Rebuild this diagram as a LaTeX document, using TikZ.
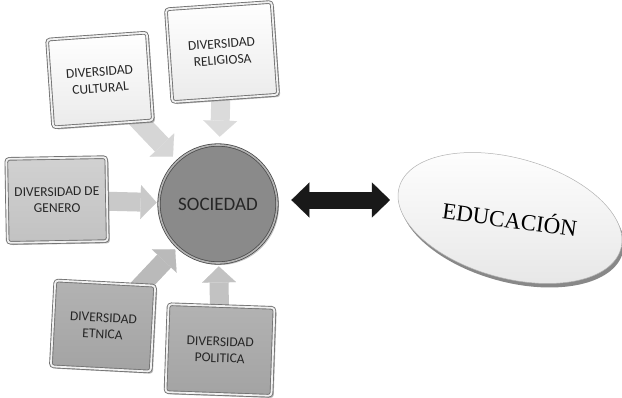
\documentclass[tikz,border=0pt]{standalone}
\usepackage{fontspec}
\setmainfont{Carlito}
\newfontfamily\edufont{Liberation Serif}
\usetikzlibrary{shapes.geometric,shadows,arrows.meta,backgrounds}
\begin{document}
\begin{tikzpicture}[x=1pt,y=-1pt,
  dbox/.style={rectangle, rounded corners=3pt, draw=black!55, line width=0.9pt,
    double=black!6, double distance=1.8pt, align=center, inner sep=2pt,
    font=\fontsize{13.5}{16.5}\selectfont, text=black!85,
    drop shadow={shadow xshift=2.2pt,shadow yshift=-2.2pt,opacity=0.55}},
  lightfill/.style={top color=white, bottom color=black!8},
  genfill/.style={top color=black!18, bottom color=black!24},
  darkfill/.style={top color=black!30, bottom color=black!36},
  socnode/.style={circle, minimum size=118pt, inner sep=0pt, fill=black!46,
    draw=black!70, line width=0.8pt, double=black!30, double distance=1.6pt,
    font=\fontsize{19}{19}\selectfont, text=black!85,
    drop shadow={shadow xshift=2pt,shadow yshift=-2pt,opacity=0.45}},
  edunode/.style={ellipse, minimum width=230pt, minimum height=120pt, inner sep=0pt,
    top color=white, bottom color=black!9, draw=black!30, line width=0.5pt,
    drop shadow={shadow xshift=2pt,shadow yshift=-4pt,fill=black!55,opacity=0.85}},
  blk/.style={line width=19pt, draw=#1, -{Triangle[width=34pt,length=16pt,line width=0.1pt,fill=#1]}},
  dblarrow/.style={line width=17pt, draw=black!90,
    {Triangle[width=35pt,length=18pt,line width=0.1pt]}-{Triangle[width=35pt,length=18pt,line width=0.1pt]}}
]
\useasboundingbox (0,0) rectangle (622,397);

\node[socnode] (soc) at (218,204) {SOCIEDAD};
\node[dbox, lightfill, minimum width=100pt, minimum height=88pt, rotate=4] (cul) at (100,80) {DIVERSIDAD\\CULTURAL};
\node[dbox, lightfill, minimum width=106pt, minimum height=93pt, rotate=4] (rel) at (222,52) {DIVERSIDAD\\RELIGIOSA};
\node[dbox, genfill, minimum width=100pt, minimum height=84pt, rotate=1] (gen) at (57,200) {DIVERSIDAD DE\\GENERO};
\node[dbox, darkfill, minimum width=100pt, minimum height=86pt, rotate=-3] (etn) at (103,326) {DIVERSIDAD\\ETNICA};
\node[dbox, darkfill, minimum width=106pt, minimum height=88pt, rotate=-2] (pol) at (220,350) {DIVERSIDAD\\POLITICA};

\node[edunode, rotate=-15.5] (edu) at (510,218) {\rotatebox{8}{\edufont\fontsize{23}{23}\selectfont EDUCACIÓN}};

\begin{scope}[on background layer]
  \draw[blk=black!16, shorten <=-6pt, shorten >=6pt] (cul) -- (soc);
  \draw[blk=black!14, shorten <=-4pt, shorten >=8pt] (rel) -- (soc);
  \draw[blk=black!21, shorten <=-4pt, shorten >=2pt] (gen) -- (soc);
  \draw[blk=black!27, shorten <=-6pt, shorten >=3pt] (etn) -- (soc);
  \draw[blk=black!24, shorten <=-4pt, shorten >=3pt] (pol) -- (soc);
\end{scope}

\draw[dblarrow, shorten <=14pt, shorten >=9pt] ([yshift=4pt]soc.east) -- ([yshift=4pt]soc.east -| edu.west);
\end{tikzpicture}
\end{document}
